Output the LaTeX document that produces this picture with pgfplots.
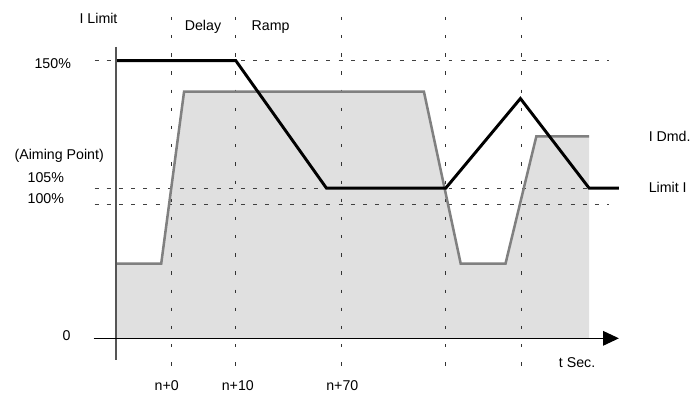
\documentclass[border=0pt]{standalone}
\usepackage{pgfplots}
\pgfplotsset{compat=1.18}
\usepackage{fontspec}
\setmainfont{Liberation Sans}
\usetikzlibrary{arrows.meta}
\definecolor{fillgray}{RGB}{224,224,224}
\definecolor{dmdgray}{RGB}{128,128,128}
\definecolor{axgray}{RGB}{85,85,85}
\begin{document}
\begin{tikzpicture}[font=\fontsize{10.7}{12}\selectfont]
\begin{axis}[
  x=0.75pt, y=0.75pt,
  xmin=0, xmax=695, ymin=0, ymax=395,
  hide axis, clip=false,
]
% demand fill
\addplot[fill=fillgray, draw=none] coordinates {
  (117,55) (117,130) (162,130) (185,303) (426,303) (463,130) (508,130) (539,258) (592,258) (592,55)} -- cycle;
% horizontal dashed lines
\addplot[black!75, line width=0.6pt, dash pattern=on 3pt off 6.2pt] coordinates {(95,334) (612,334)};
\addplot[black!75, line width=0.6pt, dash pattern=on 3pt off 6.2pt] coordinates {(95,206) (612,206)};
\addplot[black!75, line width=0.6pt, dash pattern=on 3pt off 6.2pt] coordinates {(95,190) (612,190)};
% vertical dotted lines
\foreach \xv in {172,237,343,448,524} {
  \edef\tmp{\noexpand\addplot[black!80, line width=0.75pt, dash pattern=on 2.5pt off 11.2pt, dash phase=0pt] coordinates {(\xv,378) (\xv,25)};}
  \tmp
}
% demand line
\addplot[dmdgray, line width=1.9pt] coordinates {
  (117,130) (162,130) (185,303) (426,303) (463,130) (508,130) (539,258) (592,258)};
% limit line
\addplot[black, line width=2.2pt] coordinates {
  (117,334) (237,334) (328,206) (448,206) (523,296) (592,206) (622,206)};
% axes
\addplot[axgray, line width=1.5pt] coordinates {(117,348) (117,33)};
\addplot[black, line width=1.1pt, -{Triangle[length=12pt,width=11pt]}] coordinates {(94,55) (622,55)};
% labels
\node at (axis cs:99,376) {I Limit};
\node at (axis cs:204,368) {Delay};
\node at (axis cs:272,368) {Ramp};
\node at (axis cs:53,331) {150\%};
\node at (axis cs:59.5,238) {(Aiming Point)};
\node at (axis cs:46,217) {105\%};
\node at (axis cs:46,195) {100\%};
\node at (axis cs:67,58) {0};
\node at (axis cs:167.5,7) {n+0};
\node at (axis cs:239,7) {n+10};
\node at (axis cs:344,7) {n+70};
\node at (axis cs:580,31) {t Sec.};
\node at (axis cs:673,258) {I Dmd.};
\node at (axis cs:671,207) {Limit I};
\end{axis}
\path (current axis.south west) rectangle (current axis.north east);
\end{tikzpicture}
\end{document}
